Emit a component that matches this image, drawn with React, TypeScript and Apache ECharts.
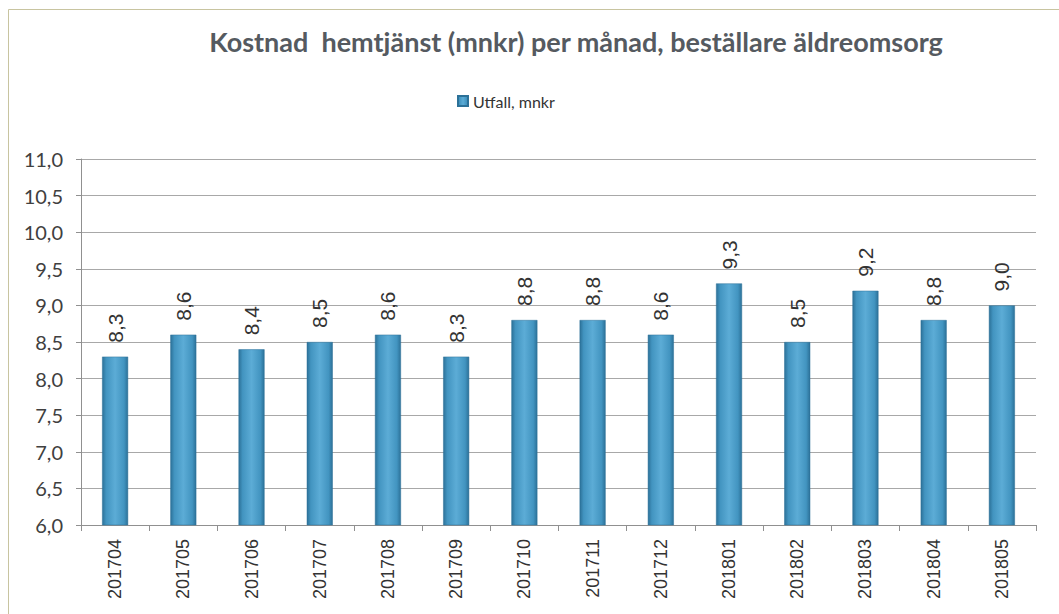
import React, { useEffect, useRef } from "react";
import * as echarts from "echarts";

const categories = ["201704","201705","201706","201707","201708","201709","201710","201711","201712","201801","201802","201803","201804","201805"];
const values = [8.3, 8.6, 8.4, 8.5, 8.6, 8.3, 8.8, 8.8, 8.6, 9.3, 8.5, 9.2, 8.8, 9.0];
const seriesName = "Utfall, mnkr";
const titleText = "Kostnad  hemtjänst (mnkr) per månad, beställare äldreomsorg";

const fmt = (v: number) => v.toFixed(1).replace(".", ",");

export default function App() {
  const ref = useRef<HTMLDivElement>(null);
  useEffect(() => {
    const chart = echarts.init(ref.current!, null, { renderer: "svg" });
    const barColor = new echarts.graphic.LinearGradient(0, 0, 1, 0, [
      { offset: 0, color: "#2c7198" },
      { offset: 0.15, color: "#4294c0" },
      { offset: 0.5, color: "#5cacd6" },
      { offset: 0.85, color: "#4294c0" },
      { offset: 1, color: "#2c7198" },
    ]);
    chart.setOption({
      animation: false,
      backgroundColor: "#ffffff",
      title: {
        text: titleText,
        left: 571,
        textAlign: "center",
        top: 23,
        textStyle: { fontFamily: "Lato", fontWeight: "bold", fontSize: 27, color: "#555a60" },
      },
      legend: {
        data: [seriesName],
        icon: "rect",
        left: 452,
        top: 88,
        itemWidth: 10,
        itemHeight: 10,
        itemGap: 4,
        textStyle: { fontFamily: "Lato", fontSize: 16, color: "#333" },
      },
      graphic: [
        {
          type: "rect",
          shape: { x: 8.5, y: 9.5, width: 1100, height: 700 },
          style: { fill: "none", stroke: "#c8c4a0", lineWidth: 1 },
        },
      ],
      grid: { left: 81, right: 23, top: 159, bottom: 89 },
      xAxis: {
        type: "category",
        data: categories,
        axisLine: { show: true, lineStyle: { color: "#909090" } },
        axisTick: { show: true, length: 6, lineStyle: { color: "#909090" } },
        axisLabel: { rotate: 90, fontFamily: "Liberation Sans", fontSize: 18, color: "#333", margin: 14 },
      },
      yAxis: {
        type: "value",
        min: 6,
        max: 11,
        interval: 0.5,
        axisLine: { show: true, lineStyle: { color: "#909090" } },
        axisTick: { show: true, length: 5, lineStyle: { color: "#909090" } },
        axisLabel: { formatter: (v: number) => fmt(v), fontFamily: "Lato", fontSize: 20, color: "#404040", margin: 18 },
        splitLine: { show: true, lineStyle: { color: "#a8a8a8", width: 1 } },
      },
      series: [
        {
          name: seriesName,
          type: "bar",
          data: values,
          barWidth: 26,
          itemStyle: { color: barColor, borderColor: "#2c7198", borderWidth: 0.5 },
          label: {
            show: true,
            position: "top",
            rotate: 90,
            align: "left",
            verticalAlign: "middle",
            distance: 14,
            formatter: (p: any) => fmt(p.value),
            fontFamily: "Liberation Sans",
            fontSize: 21,
            color: "#333",
          },
        },
      ],
    });
    return () => chart.dispose();
  }, []);
  return <div ref={ref} style={{ position: "absolute", left: 0, top: 0, width: 1059, height: 614 }} />;
}
